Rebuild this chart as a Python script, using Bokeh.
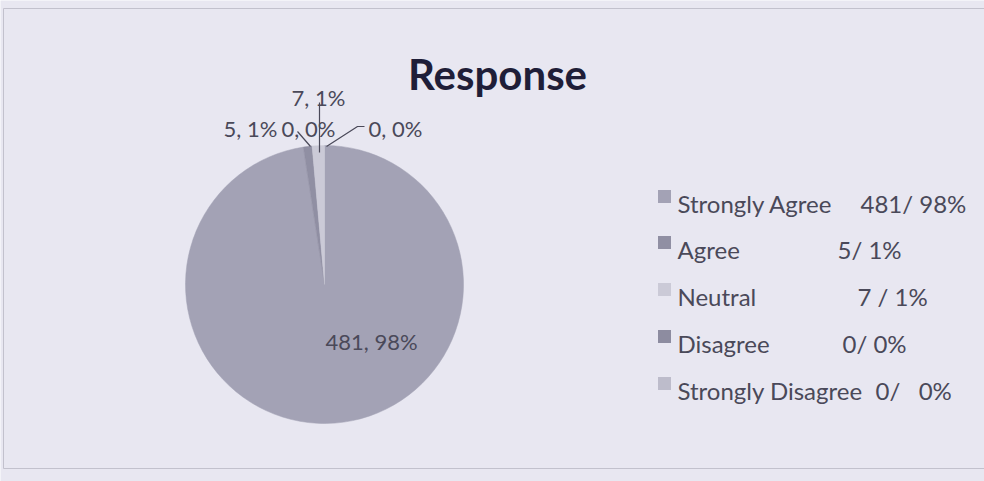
import numpy as np
from bokeh.plotting import figure
from bokeh.models import Range1d, ColumnDataSource
from bokeh.core.properties import value
from bokeh.embed import file_html
from bokeh.resources import INLINE

# ---------------- data ----------------
title_text = "Response"
categories = ["Strongly Agree", "Agree", "Neutral", "Disagree", "Strongly Disagree"]
counts = [481, 5, 7, 0, 0]
legend_values = ["481/ 98%", "5/ 1%", "7 / 1%", "0/ 0%", "0/   0%"]
slice_colors = ["#a3a2b5", "#908fa3", "#cbcad7", "#8d8ca0", "#bdbccb"]

# ---------------- layout (page pixel coordinates) ----------------
W, H = 984, 481
BG = "#e8e7f1"
FONT = "Lato"


def X(px):
    return px


def Y(py):
    return H - py


pie_cx, pie_cy, pie_r = X(324), Y(284), 139
label_pos = [(371, 341), (250, 128), (318, 97), (308, 128), (395, 128)]
leader_pts = [None, [(297, 131), (310, 146)], [(319, 102), (319, 152)], None,
              [(364, 126), (357, 126), (326, 146)]]
legend_sq_x = 664
legend_name_x = 677
legend_baselines = [203, 249, 296, 343, 390]
legend_value_x = [860, 837, 857, 842, 875]

# ---------------- figure ----------------
p = figure(width=W, height=H, x_range=Range1d(0, W), y_range=Range1d(0, H),
           x_axis_type=None, y_axis_type=None, output_backend="svg",
           toolbar_location=None, min_border=0,
           background_fill_color=BG, border_fill_color=BG,
           outline_line_color=None)

# chart-area frame
p.quad(left=[X(3)], right=[X(995)], top=[Y(8)], bottom=[Y(468)],
       fill_color=None, line_color="#c2c1cd", line_width=1)

# pie
cnt = np.array(counts, dtype=float)
total = cnt.sum()
frac = cnt / total
cum = np.cumsum(frac)
start = np.pi / 2 - 2 * np.pi * (cum - frac)
end = np.pi / 2 - 2 * np.pi * cum
mask = cnt > 0
wsrc = ColumnDataSource(dict(
    start=start[mask], end=end[mask],
    color=[c for c, m in zip(slice_colors, mask) if m],
    cat=[c for c, m in zip(categories, mask) if m],
))
p.wedge(x=pie_cx, y=pie_cy, radius=pie_r, start_angle="start", end_angle="end",
        direction="clock", fill_color="color", line_color="color", line_width=0.5,
        source=wsrc)

# data labels
pct = [int(round(100 * c / total)) for c in counts]
labels = [f"{c}, {q}%" for c, q in zip(counts, pct)]
p.text(x=[X(a) for a, b in label_pos], y=[Y(b) for a, b in label_pos], text=labels,
       text_align="center", text_baseline="alphabetic", text_font=value(FONT),
       text_font_size="22px", text_color="#4a4959")

# leader lines
xs, ys = [], []
for pts in leader_pts:
    if pts:
        xs.append([X(a) for a, b in pts])
        ys.append([Y(b) for a, b in pts])
p.multi_line(xs, ys, line_color="#4a4959", line_width=1.2)

# title
p.text(x=[X(497)], y=[Y(73)], text=[title_text], text_align="center",
       text_baseline="alphabetic", text_font=value(FONT), text_font_style="bold",
       text_font_size="42px", text_color="#1f1e38")

# legend (manual)
ly = [Y(b) for b in legend_baselines]
p.scatter(x=[X(legend_sq_x)] * len(categories), y=[v + 7 for v in ly], marker="square",
          size=13, fill_color=slice_colors, line_color=None)
p.text(x=[X(legend_name_x)] * len(categories), y=ly, text=categories,
       text_align="left", text_baseline="alphabetic", text_font=value(FONT),
       text_font_size="24px", text_color="#4a4959")
p.text(x=[X(v) for v in legend_value_x], y=ly,
       text=[s.replace(" ", "\u00a0") for s in legend_values],
       text_align="left", text_baseline="alphabetic", text_font=value(FONT),
       text_font_size="24px", text_color="#4a4959")

open("out.html", "w").write(file_html(p, INLINE))
